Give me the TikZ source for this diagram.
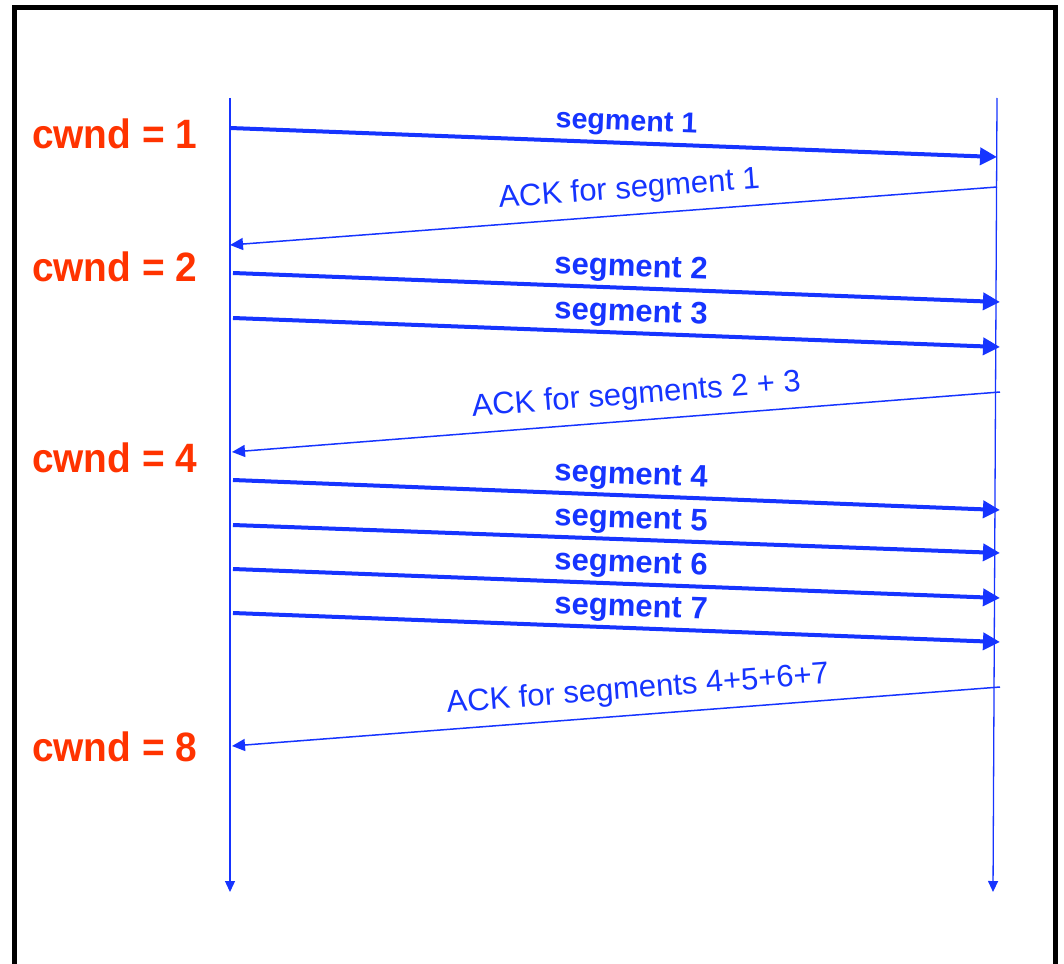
\documentclass[tikz,border=0pt]{standalone}
\usepackage{fontspec}
\setmainfont{Liberation Sans}
\usetikzlibrary{arrows.meta}
\definecolor{seqblue}{RGB}{22,52,255}
\definecolor{cwred}{RGB}{255,51,0}
\newcommand{\narrow}[1]{\scalebox{0.947}[1]{#1}}
\begin{document}
\begin{tikzpicture}[x=1pt,y=-1pt,
  timeline/.style={seqblue, line width=1.3pt, -{Triangle[length=11pt,width=10pt]}},
  data/.style={seqblue, line width=4pt, -{Triangle[length=17pt,width=17pt]}},
  ack/.style={seqblue, line width=1.5pt, -{Triangle[length=13pt,width=12pt]}},
  datalabel/.style={font=\bfseries\fontsize{31}{31}\selectfont, text=seqblue, inner sep=0pt, sloped, above=3pt, pos=0.518},
  firstlabel/.style={datalabel, font=\bfseries\fontsize{28.7}{28.7}\selectfont, above=1.5pt, pos=0.516},
  acklabel/.style={font=\fontsize{31}{31}\selectfont, text=seqblue, inner sep=0pt, sloped, above=9.5pt},
  cwnd/.style={font=\bfseries\fontsize{41}{41}\selectfont, text=cwred, anchor=base west, inner sep=0pt},
]
\useasboundingbox (0,0) rectangle (1064,963);
% frame, open at the bottom
\draw[line width=5pt] (14.5,990) -- (14.5,7.5) -- (1055.5,7.5) -- (1055.5,990);

% time lines of sender and receiver
\coordinate (Stop) at (230,98);
\coordinate (Sbot) at (230,892);
\coordinate (Rtop) at (997,98);
\coordinate (Rbot) at (993,892);
\draw[timeline] (Stop) -- (Sbot);
\draw[timeline] (Rtop) -- (Rbot);

% end points of the messages
\coordinate (s1a) at (230,128);  \coordinate (s1b) at (997,157);
\coordinate (a1a) at (997,187);  \coordinate (a1b) at (230,245);
\coordinate (s2a) at (233,273);  \coordinate (s2b) at (1000,302);
\coordinate (s3a) at (233,318);  \coordinate (s3b) at (1000,347);
\coordinate (a2a) at (1000,392); \coordinate (a2b) at (232,452);
\coordinate (s4a) at (233,480);  \coordinate (s4b) at (1000,510);
\coordinate (s5a) at (233,525);  \coordinate (s5b) at (1000,553);
\coordinate (s6a) at (233,569);  \coordinate (s6b) at (1000,598);
\coordinate (s7a) at (233,613);  \coordinate (s7b) at (1000,642);
\coordinate (a4a) at (1000,687); \coordinate (a4b) at (232,746);

\draw[data] (s1a) -- node[firstlabel] {segment 1} (s1b);
\draw[ack]  (a1a) -- node[acklabel, pos=0.477] {ACK for segment 1} (a1b);
\draw[data] (s2a) -- node[datalabel] {segment 2} (s2b);
\draw[data] (s3a) -- node[datalabel] {segment 3} (s3b);
\draw[ack]  (a2a) -- node[acklabel, pos=0.471] {ACK for segments 2 + 3} (a2b);
\draw[data] (s4a) -- node[datalabel] {segment 4} (s4b);
\draw[data] (s5a) -- node[datalabel] {segment 5} (s5b);
\draw[data] (s6a) -- node[datalabel] {segment 6} (s6b);
\draw[data] (s7a) -- node[datalabel] {segment 7} (s7b);
\draw[ack]  (a4a) -- node[acklabel, pos=0.469] {ACK for segments 4+5+6+7} (a4b);

% congestion window sizes
\node[cwnd] (cw1) at (32,148) {\narrow{cwnd = 1}};
\node[cwnd] (cw2) at (32,281) {\narrow{cwnd = 2}};
\node[cwnd] (cw4) at (32,472) {\narrow{cwnd = 4}};
\node[cwnd] (cw8) at (32,761) {\narrow{cwnd = 8}};
\end{tikzpicture}
\end{document}
